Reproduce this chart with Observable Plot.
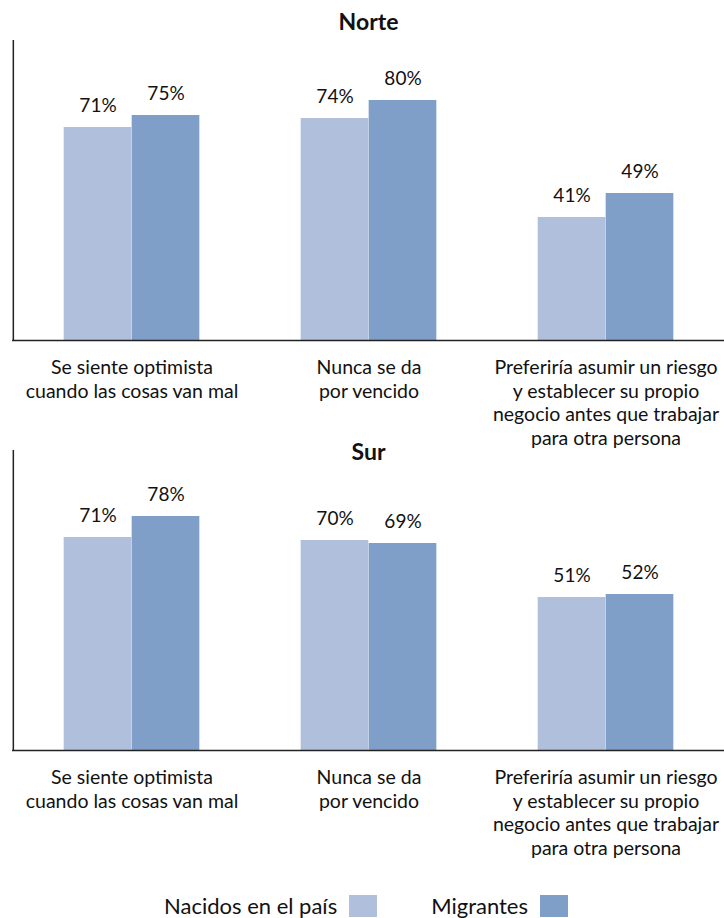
<!DOCTYPE html>
<html>
<head>
<meta charset="utf-8">
<script src="https://cdn.jsdelivr.net/npm/d3@7"></script>
<script src="https://cdn.jsdelivr.net/npm/@observablehq/plot@0.6"></script>
<style>
  body { margin: 0; background: #fff; font-family: Lato, "Open Sans", sans-serif; }
  #wrap { position: relative; width: 724px; height: 918px; overflow: hidden; }
  .panel { position: absolute; left: 0; }
  #legend { position: absolute; left: 164px; top: 892px; display: flex; align-items: center; font-size: 22px; color: #111; }
  .sw { width: 28px; height: 22px; margin-left: 12px; }
</style>
</head>
<body>
<div id="wrap">
  <div id="p1" class="panel" style="top:0px"></div>
  <div id="p2" class="panel" style="top:410px"></div>
  <div id="legend"></div>
</div>
<script>
const categories = [
  "Se siente optimista\ncuando las cosas van mal",
  "Nunca se da\npor vencido",
  "Preferiría asumir un riesgo\ny establecer su propio\nnegocio antes que trabajar\npara otra persona"
];
const seriesNames = ["Nacidos en el país", "Migrantes"];
const colors = ["#B0C0DC", "#7F9FC8"];
const regions = ["Norte", "Sur"];
const norteNacidos = [71, 74, 41];
const norteMigrantes = [75, 80, 49];
const surNacidos = [71, 70, 51];
const surMigrantes = [78, 69, 52];

const W = 724, ML = 12, MR = 0;
const groupW = (W - ML - MR) / categories.length;
const barW = 68;
const outer = (groupW - 2 * barW) / 2;

function panel(title, a, b, titleDy) {
  const rows = [];
  categories.forEach((c, i) => {
    rows.push({cat: c, series: seriesNames[0], value: a[i]});
    rows.push({cat: c, series: seriesNames[1], value: b[i]});
  });
  const sA = rows.filter(d => d.series === seriesNames[0]);
  const sB = rows.filter(d => d.series === seriesNames[1]);
  const font = "Lato, 'Open Sans', sans-serif";
  return Plot.plot({
    width: W,
    height: 470,
    marginTop: 40,
    marginBottom: 130,
    marginLeft: ML,
    marginRight: MR,
    style: {background: "transparent", overflow: "visible", fontFamily: font},
    x: {type: "band", domain: categories, padding: 0, axis: null},
    y: {domain: [0, 100], axis: null},
    marks: [
      Plot.barY(sA, {x: "cat", y: "value", fill: colors[0], insetLeft: outer, insetRight: outer + barW}),
      Plot.barY(sB, {x: "cat", y: "value", fill: colors[1], insetLeft: outer + barW, insetRight: outer}),
      Plot.text(sA, {x: "cat", y: "value", text: d => d.value + "%", dx: -barW / 2, dy: -22, fontSize: 19, fill: "#111"}),
      Plot.text(sB, {x: "cat", y: "value", text: d => d.value + "%", dx: barW / 2, dy: -22, fontSize: 19, fill: "#111"}),
      Plot.ruleY([0], {stroke: "#222", strokeWidth: 1.5}),
      Plot.ruleX([categories[0]], {y1: 0, y2: 100, stroke: "#222", strokeWidth: 1.5, dx: -groupW / 2}),
      Plot.text(categories, {x: d => d, frameAnchor: "bottom", lineAnchor: "top", dy: 16, fontSize: 19.5, lineHeight: 1.23, fill: "#111"}),
      Plot.text([title], {frameAnchor: "top", lineAnchor: "middle", dy: titleDy, fontSize: 23, fontWeight: "bold", fill: "#111"})
    ]
  });
}

document.getElementById("p1").appendChild(panel(regions[0], norteNacidos, norteMigrantes, -18));
document.getElementById("p2").appendChild(panel(regions[1], surNacidos, surMigrantes, 2));

const lg = document.getElementById("legend");
seriesNames.forEach((n, i) => {
  const t = document.createElement("span");
  t.textContent = n;
  if (i > 0) t.style.marginLeft = "54px";
  const s = document.createElement("span");
  s.className = "sw";
  s.style.background = colors[i];
  lg.appendChild(t);
  lg.appendChild(s);
});
</script>
</body>
</html>
